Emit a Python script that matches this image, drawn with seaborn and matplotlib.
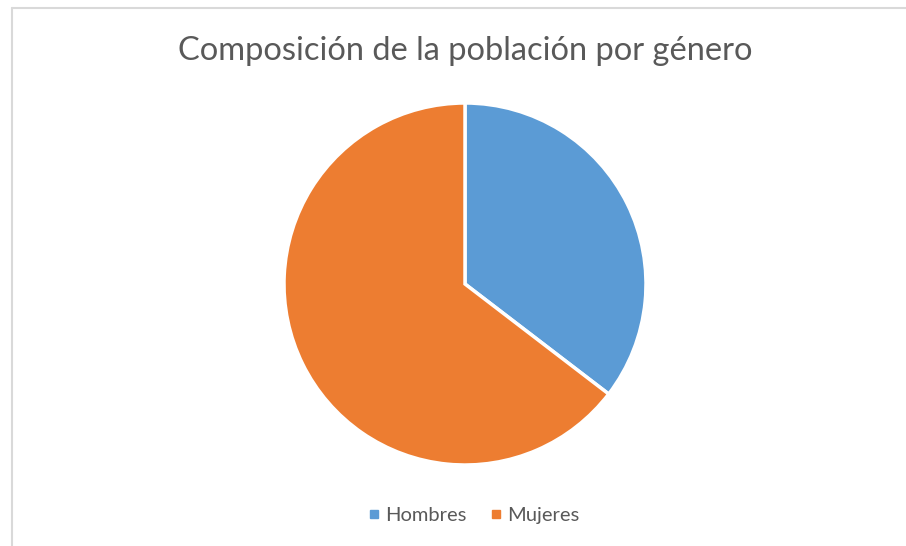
import matplotlib
matplotlib.use("Agg")
import matplotlib.pyplot as plt
from matplotlib.lines import Line2D
import seaborn as sns

categories = ["Hombres", "Mujeres"]
values = [35.4, 64.6]
colors = ["#5B9BD5", "#ED7D31"]
title = "Composición de la población por género"

sns.set_theme(style="white")
plt.rcParams["font.family"] = ["Lato", "DejaVu Sans"]

fig = plt.figure(figsize=(9.06, 5.46), dpi=100)
ax = fig.add_axes([(465 - 181) / 906, (546 - 465) / 546, 362 / 906, 362 / 546])
ax.pie(values, colors=colors, startangle=90, counterclock=False,
       wedgeprops=dict(edgecolor="white", linewidth=2.5))
ax.set_xlim(-1, 1)
ax.set_ylim(-1, 1)
ax.set_aspect("equal")

fig.text(465 / 906, 1 - 51 / 546, title, ha="center", va="center",
         fontsize=23.5, color="#595959")

handles = [Line2D([], [], marker="s", linestyle="none", markersize=6,
                  markerfacecolor=c, markeredgecolor=c) for c in colors]
fig.legend(handles, categories, loc="center", bbox_to_anchor=(472 / 906, 1 - 515 / 546),
           ncol=2, frameon=False, fontsize=14.5, labelcolor="#595959",
           handletextpad=0.1, columnspacing=1.0, handlelength=0.9)

# chart border (top and left edges)
fig.add_artist(Line2D([11.5 / 906, 1], [1 - 8 / 546, 1 - 8 / 546], color="#D9D9D9", linewidth=1.5))
fig.add_artist(Line2D([11.5 / 906, 11.5 / 906], [0, 1 - 8 / 546], color="#D9D9D9", linewidth=1.5))

fig.savefig("out.png", dpi=100, facecolor="white")
